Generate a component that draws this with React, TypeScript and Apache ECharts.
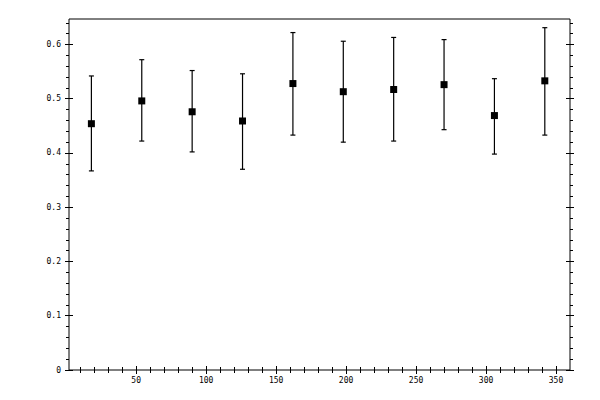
import { useEffect, useRef } from "react";
import * as echarts from "echarts";

// measured points (x position, mean, lower and upper error bounds)
const xValues = [18, 54, 90, 126, 162, 198, 234, 270, 306, 342];
const means = [0.454, 0.496, 0.476, 0.459, 0.528, 0.513, 0.517, 0.526, 0.469, 0.533];
const lowers = [0.367, 0.422, 0.402, 0.370, 0.433, 0.420, 0.422, 0.443, 0.398, 0.433];
const uppers = [0.542, 0.572, 0.552, 0.546, 0.622, 0.606, 0.613, 0.609, 0.537, 0.631];

// ticks
const xMajor = [50, 100, 150, 200, 250, 300, 350];
const xMinor = [
  10, 20, 30, 40, 60, 70, 80, 90, 110, 120, 130, 140, 160, 170, 180, 190,
  210, 220, 230, 240, 260, 270, 280, 290, 310, 320, 330, 340,
];
const yMajor = [0, 0.1, 0.2, 0.3, 0.4, 0.5, 0.6];
const yMinor = [
  0.02, 0.04, 0.06, 0.08, 0.12, 0.14, 0.16, 0.18, 0.22, 0.24, 0.26, 0.28,
  0.32, 0.34, 0.36, 0.38, 0.42, 0.44, 0.46, 0.48, 0.52, 0.54, 0.56, 0.58,
  0.62, 0.64,
];

const X_MIN = 2;
const X_MAX = 360;
const Y_MIN = 0;
const Y_MAX = 0.647;

const font = { fontFamily: "DejaVu Sans Mono", fontSize: 8, color: "#000" };
const tickLine = { color: "#000", width: 1 };

function xAxisDef(position: string, ticks: number[], inside: boolean, length: number, labels?: number[]) {
  return {
    type: "value",
    position,
    min: X_MIN,
    max: X_MAX,
    axisLine: { show: false },
    splitLine: { show: false },
    axisTick: { show: true, customValues: ticks, inside, length, lineStyle: tickLine },
    axisLabel: labels
      ? { show: true, customValues: labels, margin: 6, ...font }
      : { show: false },
  };
}

function yAxisDef(position: string, ticks: number[], inside: boolean, length: number, labels?: number[]) {
  return {
    type: "value",
    position,
    min: Y_MIN,
    max: Y_MAX,
    axisLine: { show: false },
    splitLine: { show: false },
    axisTick: { show: true, customValues: ticks, inside, length, lineStyle: tickLine },
    axisLabel: labels
      ? { show: true, customValues: labels, margin: 8, ...font }
      : { show: false },
  };
}

export default function App() {
  const ref = useRef<HTMLDivElement>(null);

  useEffect(() => {
    if (!ref.current) return;
    const chart = echarts.init(ref.current, null, { renderer: "svg" });

    const points = xValues.map((x, i) => [x, means[i]]);
    const bars = xValues.map((x, i) => [x, lowers[i], uppers[i]]);

    chart.setOption({
      animation: false,
      backgroundColor: "#fff",
      grid: {
        left: 69,
        top: 19,
        width: 501,
        height: 351,
        show: true,
        borderColor: "#000",
        borderWidth: 1,
        backgroundColor: "transparent",
      },
      xAxis: [
        xAxisDef("bottom", xMajor, false, 4, xMajor),
        xAxisDef("bottom", xMajor, true, 4),
        xAxisDef("bottom", xMinor, false, 3),
        xAxisDef("top", xMajor, false, 4),
        xAxisDef("top", xMajor, true, 4),
        xAxisDef("top", xMinor, false, 3),
      ],
      yAxis: [
        yAxisDef("left", yMajor, false, 4, yMajor),
        yAxisDef("left", yMajor, true, 4),
        yAxisDef("left", yMinor, false, 3),
        yAxisDef("right", yMajor, false, 4),
        yAxisDef("right", yMajor, true, 4),
        yAxisDef("right", yMinor, false, 3),
      ],
      series: [
        {
          type: "custom",
          xAxisIndex: 0,
          yAxisIndex: 0,
          data: bars,
          renderItem: (_params: any, api: any) => {
            const x = api.value(0);
            const lo = api.coord([x, api.value(1)]);
            const hi = api.coord([x, api.value(2)]);
            const cap = 2.5;
            const style = { stroke: "#000", lineWidth: 1.2 };
            return {
              type: "group",
              children: [
                { type: "line", shape: { x1: lo[0], y1: lo[1], x2: hi[0], y2: hi[1] }, style },
                { type: "line", shape: { x1: lo[0] - cap, y1: lo[1], x2: lo[0] + cap, y2: lo[1] }, style },
                { type: "line", shape: { x1: hi[0] - cap, y1: hi[1], x2: hi[0] + cap, y2: hi[1] }, style },
              ],
            };
          },
          z: 2,
        },
        {
          type: "scatter",
          xAxisIndex: 0,
          yAxisIndex: 0,
          data: points,
          symbol: "rect",
          symbolSize: 7,
          itemStyle: { color: "#000", opacity: 1 },
          z: 3,
        },
      ],
    });

    return () => chart.dispose();
  }, []);

  return (
    <div
      ref={ref}
      style={{ position: "fixed", left: 0, top: 0, width: 600, height: 400 }}
    />
  );
}
